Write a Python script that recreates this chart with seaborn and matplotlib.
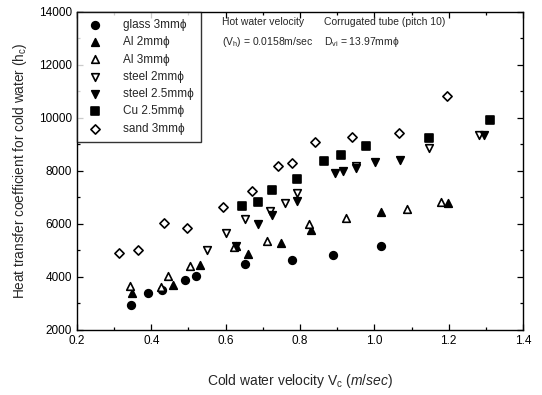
import matplotlib
matplotlib.use("Agg")
import matplotlib.pyplot as plt
import seaborn as sns
import pandas as pd
from matplotlib.ticker import MultipleLocator, FormatStrFormatter

sns.set_theme(style="ticks")
plt.rcParams["font.family"] = ["Liberation Sans", "DejaVu Sans"]
plt.rcParams["mathtext.fontset"] = "custom"
plt.rcParams["mathtext.rm"] = "Liberation Sans"
plt.rcParams["mathtext.it"] = "Liberation Sans:italic"

# Cold water velocity (m/sec) and heat transfer coefficient for each particle bed
glass_v = [0.345, 0.390, 0.430, 0.490, 0.520, 0.651, 0.779, 0.889, 1.019]
glass_h = [2920, 3400, 3510, 3890, 4050, 4480, 4630, 4820, 5180]

al2_v = [0.349, 0.458, 0.530, 0.628, 0.661, 0.750, 0.830, 1.019, 1.198]
al2_h = [3385, 3710, 4440, 5170, 4870, 5260, 5770, 6465, 6805]

al3_v = [0.343, 0.425, 0.445, 0.505, 0.623, 0.712, 0.824, 0.925, 1.089, 1.178]
al3_h = [3640, 3620, 4040, 4390, 5120, 5340, 6000, 6215, 6570, 6830]

steel2_v = [0.550, 0.601, 0.652, 0.720, 0.760, 0.791, 0.951, 1.146, 1.281]
steel2_h = [5020, 5650, 6200, 6490, 6805, 7160, 8200, 8850, 9360]

steel25_v = [0.628, 0.686, 0.726, 0.791, 0.893, 0.915, 0.951, 1.001, 1.069, 1.296]
steel25_h = [5170, 5990, 6315, 6880, 7915, 7980, 8100, 8320, 8415, 9340]

cu_v = [0.645, 0.687, 0.726, 0.791, 0.864, 0.909, 0.978, 1.146, 1.310]
cu_h = [6655, 6820, 7285, 7690, 8360, 8605, 8945, 9240, 9900]

sand_v = [0.314, 0.363, 0.434, 0.497, 0.594, 0.671, 0.742, 0.779, 0.840, 0.940, 1.066, 1.196]
sand_h = [4906, 5020, 6027, 5850, 6640, 7246, 8190, 8290, 9100, 9260, 9420, 10820]

series = [
    ("glass 3mmϕ", glass_v, glass_h, "o", True),
    ("Al 2mmϕ", al2_v, al2_h, "^", True),
    ("Al 3mmϕ", al3_v, al3_h, "^", False),
    ("steel 2mmϕ", steel2_v, steel2_h, "v", False),
    ("steel 2.5mmϕ", steel25_v, steel25_h, "v", True),
    ("Cu 2.5mmϕ", cu_v, cu_h, "s", True),
    ("sand 3mmϕ", sand_v, sand_h, "D", False),
]

fig = plt.figure(figsize=(5.42, 3.95), dpi=100)
ax = fig.add_axes([0.142, 0.165, 0.823, 0.805])

for name, v, h, mk, filled in series:
    df = pd.DataFrame({"v": v, "h": h})
    size = 30 if mk != "D" else 22
    sns.scatterplot(
        data=df, x="v", y="h", ax=ax, marker=mk, s=size,
        facecolor="black" if filled else "white",
        edgecolor="black", linewidth=1.2, label=name, zorder=3,
    )

ax.set_xlim(0.2, 1.4)
ax.set_ylim(2000, 14000)
ax.xaxis.set_major_locator(MultipleLocator(0.2))
ax.xaxis.set_minor_locator(MultipleLocator(0.1))
ax.xaxis.set_major_formatter(FormatStrFormatter("%.1f"))
ax.yaxis.set_major_locator(MultipleLocator(2000))
ax.yaxis.set_minor_locator(MultipleLocator(1000))
ax.tick_params(which="both", direction="in", top=True, right=True,
               colors="black", labelsize=8.5, width=0.9)
ax.tick_params(which="major", length=4)
ax.tick_params(which="minor", length=2.5)
for sp in ax.spines.values():
    sp.set_color("black")
    sp.set_linewidth(1.0)

ax.set_xlabel(r"Cold water velocity V$_{\rm c}$ ($\it{m/sec}$)", fontsize=10, labelpad=18)
ax.set_ylabel(r"Heat transfer coefficient for cold water (h$_{\rm c}$)", fontsize=9.8, labelpad=7)

ax.text(0.589, 13620, "Hot water velocity", fontsize=7.5, va="center")
ax.text(0.589, 12880, r"(V$_{\rm h}$) = 0.0158m/sec", fontsize=7.5, va="center")
ax.text(0.864, 13620, "Corrugated tube (pitch 10)", fontsize=7.5, va="center")
ax.text(0.864, 12880, r"D$_{\rm vi}$ = 13.97mmϕ", fontsize=7.5, va="center")

leg = ax.legend(loc="upper left", fontsize=8.5, frameon=True, fancybox=False,
                borderaxespad=0, handletextpad=1.4, labelspacing=0.45,
                borderpad=0.6, handlelength=1.9)
leg.get_frame().set_edgecolor("black")
leg.get_frame().set_linewidth(1.0)

fig.savefig("out.png", dpi=100)
